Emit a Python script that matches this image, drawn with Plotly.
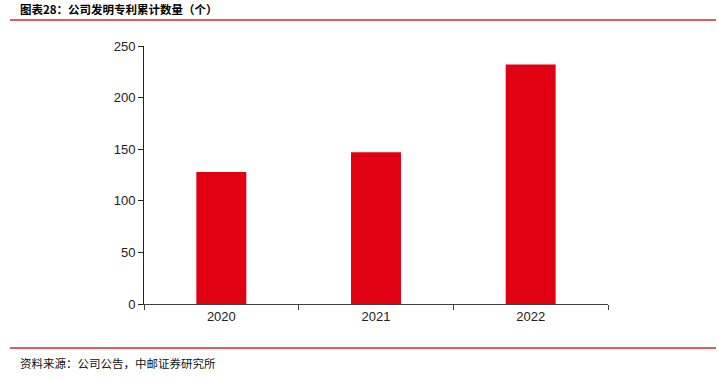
import plotly.graph_objects as go

categories = ["2020", "2021", "2022"]
values = [128, 147, 232]
y_ticks = [0, 50, 100, 150, 200, 250]

W, H = 719, 378
L, R, T, B = 144, 608, 46, 304
pw, ph = R - L, B - T

def px(x):
    return (x - L) / pw

def py(y):
    return (B - y) / ph

fig = go.Figure(go.Bar(x=categories, y=values, marker_color="#E10012",
                       marker_line_width=0, width=0.323))

fig.update_layout(
    width=W, height=H,
    margin=dict(l=L, r=W - R, t=T, b=H - B),
    paper_bgcolor="white", plot_bgcolor="white",
    showlegend=False,
    font=dict(family="Liberation Sans, Arial", size=13, color="#222"),
    xaxis=dict(type="category", showline=True, linecolor="#404040", linewidth=1,
               ticks="outside", tickson="boundaries", ticklen=5, tickcolor="#404040",
               showgrid=False, range=[-0.5, 2.5], tickfont=dict(size=13)),
    yaxis=dict(range=[0, 250], tickvals=y_ticks, showline=True, linecolor="#202020",
               linewidth=1, ticks="outside", ticklen=5, tickcolor="#202020",
               showgrid=False, zeroline=False, tickfont=dict(size=13)),
    shapes=[
        dict(type="line", xref="paper", yref="paper", x0=px(10), x1=px(716),
             y0=py(20), y1=py(20), line=dict(color="#D7252C", width=1.5)),
        dict(type="line", xref="paper", yref="paper", x0=px(10), x1=px(716),
             y0=py(348), y1=py(348), line=dict(color="#D7252C", width=1.5)),
    ],
    annotations=[
        dict(text="<b>图表28：公司发明专利累计数量（个）</b>", xref="paper", yref="paper",
             x=px(18), y=py(9), xanchor="left", yanchor="middle", showarrow=False,
             font=dict(family="Noto Sans CJK SC", size=11.5, color="#000")),
        dict(text="资料来源：公司公告，中邮证券研究所", xref="paper", yref="paper",
             x=px(18), y=py(363), xanchor="left", yanchor="middle", showarrow=False,
             font=dict(family="Noto Sans CJK SC", size=11.5, color="#111")),
    ],
)

fig.write_html("out.html", config={"displayModeBar": False},
               post_script="document.body.style.margin='0';document.body.style.overflow='hidden';")
